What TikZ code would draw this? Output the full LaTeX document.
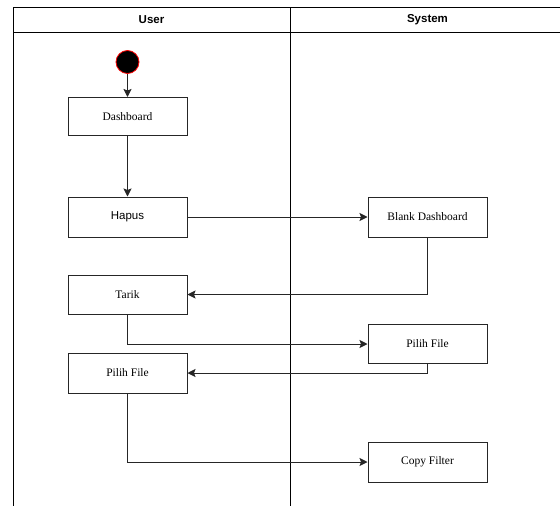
\documentclass[tikz,border=0pt]{standalone}
\usepackage{fontspec}
\setmainfont{Liberation Serif}
\setsansfont{Liberation Sans}
\usetikzlibrary{arrows.meta}

\begin{document}
\begin{tikzpicture}[x=1pt,y=-1pt,
		act/.style={draw=black!85,line width=1pt,minimum width=119pt,minimum height=40pt,inner sep=0pt,font=\fontsize{11.5}{13}\selectfont},
		flow/.style={draw=black!85,line width=0.9pt,-{Stealth[length=8pt,width=8pt,inset=1.5pt]}},
		lane/.style={draw=black,line width=1pt},
		head/.style={font=\sffamily\bfseries\fontsize{11.5}{13}\selectfont}]
		\useasboundingbox (0,0) rectangle (560,506);
		% swimlanes
		\draw[lane] (13,506)--(13,7)--(560,7);
		\draw[lane] (13,32)--(560,32);
		\draw[lane] (290,7)--(290,506);
		\node[head](user) at (151.5,19.5) {User};
		\node[head](system) at (427.5,19.5) {System};
		% user side
		\node[circle,fill=black,draw=red,line width=0.8pt,minimum size=23pt,inner sep=0pt](start) at (127.5,62) {};
		\node[act,minimum height=38pt](dash) at (127.5,116.5) {Dashboard};
		\node[act,font=\sffamily\fontsize{11.5}{13}\selectfont](hapus) at (127.5,217) {Hapus};
		\node[act,minimum height=39pt](tarik) at (127.5,294.5) {Tarik};
		\node[act](pilihU) at (127.5,373) {Pilih File};
		% system side
		\node[act](blank) at (427.5,217) {Blank Dashboard};
		\node[act,minimum height=39pt](pilihS) at (427.5,344) {Pilih File};
		\node[act](copy) at (427.5,462) {Copy Filter};
		% connectors
		\draw[flow] (start)--(dash);
		\draw[flow] (dash)--(hapus);
		\draw[flow] (hapus)--(blank);
		\draw[flow] (blank.south) |- (tarik.east);
		\draw[flow] (tarik.south) |- (pilihS.west);
		\draw[flow] (pilihS.south) |- (pilihU.east);
		\draw[flow] (pilihU.south) |- (copy.west);
	\end{tikzpicture}
\end{document}
